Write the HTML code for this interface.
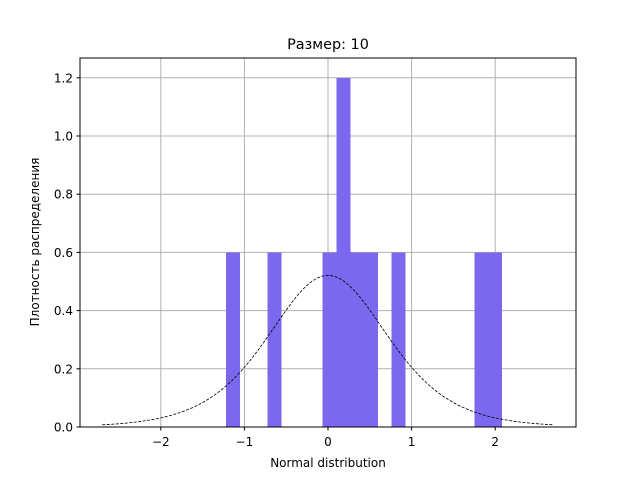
<!DOCTYPE html>
<html><head><meta charset="utf-8"><style>
body{margin:0;background:#fff;}
svg{display:block;font-family:"DejaVu Sans","Liberation Sans",sans-serif;}
</style></head><body>
<svg id="chart" width="640" height="480">
<rect width="640" height="480" fill="#fff"/>
<g id="grid"></g><g id="bars"></g><g id="curve"></g>
<rect x="80" y="58" width="496" height="369" fill="none" stroke="#000" stroke-width="1"/>
<g id="ticks"></g>
<text x="328" y="49" text-anchor="middle" font-size="14.4">Размер: 10</text>
<text x="328" y="467" text-anchor="middle" font-size="12">Normal distribution</text>
<text transform="translate(39,242) rotate(-90)" text-anchor="middle" font-size="12">Плотность распределения</text>
</svg>
<script>
const binStart = -1.22;
const binWidth = 0.165;
const binHeights = [0.6,0,0,0.6,0,0,0,0.6,1.2,0.6,0.6,0,0.6,0,0,0,0,0,0.6,0.6];
const xTicks = [-2,-1,0,1,2];
const xTickLabels = ["−2","−1","0","1","2"];
const yTicks = [0,0.2,0.4,0.6,0.8,1.0,1.2];
const yTickLabels = ["0.0","0.2","0.4","0.6","0.8","1.0","1.2"];
const curveRange = [-2.7, 2.7];
const curveScale = 0.48;

const NS="http://www.w3.org/2000/svg";
const X=v=>328+v*83.6;
const Y=v=>427-v*291;
function mk(t,a,p){const e=document.createElementNS(NS,t);for(const k in a)e.setAttribute(k,a[k]);p.appendChild(e);return e;}
const grid=document.getElementById('grid'),ticks=document.getElementById('ticks');
xTicks.forEach((v,i)=>{
  const l=mk('line',{x1:X(v),x2:X(v),y1:58,y2:427,stroke:'#b0b0b0','stroke-width':1},grid);
  
  
  const t=mk('line',{x1:X(v),x2:X(v),y1:427,y2:430.5,stroke:'#000'},ticks);
  
  
  const tx=mk('text',{x:X(v),y:446,'text-anchor':'middle','font-size':12},ticks);
  tx.textContent=xTickLabels[i];
  
  
});
yTicks.forEach((v,i)=>{
  const l=mk('line',{x1:80,x2:576,y1:Y(v),y2:Y(v),stroke:'#b0b0b0','stroke-width':1},grid);
  
  
  const t=mk('line',{x1:76.5,x2:80,y1:Y(v),y2:Y(v),stroke:'#000'},ticks);
  
  
  const tx=mk('text',{x:73,y:Y(v)+4.5,'text-anchor':'end','font-size':12},ticks);
  tx.textContent=yTickLabels[i];
  
  
});
const bars=document.getElementById('bars');
binHeights.forEach((h,i)=>{
  if(!h)return;
  const x0=X(binStart+i*binWidth),x1=X(binStart+(i+1)*binWidth);
  const r=mk('rect',{x:x0,y:Y(h),width:x1-x0+0.3,height:Y(0)-Y(h),fill:'#7b68ee','shape-rendering':'crispEdges'},bars);
  
  
});
let d='';
for(let k=0;k<=200;k++){
  const x=curveRange[0]+(curveRange[1]-curveRange[0])*k/200;
  const e=Math.exp(-Math.abs(x)/curveScale);
  const y=e/(curveScale*(1+e)*(1+e));
  d+=(k?'L':'M')+X(x).toFixed(2)+' '+Y(y).toFixed(2);
}
const p=mk('path',{d:d,fill:'none',stroke:'#000','stroke-width':0.8,'stroke-dasharray':'3,1.5'},document.getElementById('curve'));


</script>
</body></html>
